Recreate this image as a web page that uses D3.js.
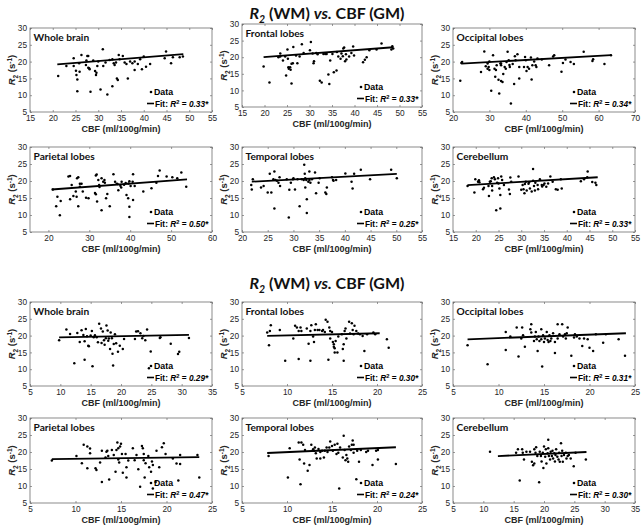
<!DOCTYPE html>
<html><head><meta charset="utf-8">
<script src="https://cdn.jsdelivr.net/npm/d3@7"></script>
<style>body{margin:0;background:#fff}svg{display:block}</style>
</head><body><svg id="c" width="641" height="526"></svg>
<script>
const regions = ["Whole brain","Frontal lobes","Occipital lobes","Parietal lobes","Temporal lobes","Cerebellum"];
const topR2 = ["0.33","0.33","0.34","0.50","0.25","0.33"];
const botR2 = ["0.29","0.30","0.31","0.47","0.24","0.30"];
const topXDomains = [[15,55],[15,55],[20,70],[15.5,60],[20,55],[15,55]];
const topXTicks = [[15,20,25,30,35,40,45,50,55],[15,20,25,30,35,40,45,50,55],[20,30,40,50,60,70],[20,30,40,50,60],[20,25,30,35,40,45,50,55],[15,20,25,30,35,40,45,50,55]];
const botXDomains = [[5,35],[5,25],[5,25],[5,25],[5,25],[5,35]];
const botXTicks = [[5,10,15,20,25,30,35],[5,10,15,20,25],[5,10,15,20,25],[5,10,15,20,25],[5,10,15,20,25],[5,10,15,20,25,30,35]];
const yTicks = [5,10,15,20,25,30];
// fits: [x start, R2 start, x end, R2 end]
const topFits = [[21,19.2,48.7,22.2],[19.8,20.0,48.6,23.0],[22.3,19.4,63.4,21.9],[20.8,17.5,53.9,20.5],[21.9,19.8,50.1,22.1],[18.2,18.8,46.8,21.1]];
const botFits = [[9.8,19.5,31.2,20.2],[7.8,19.9,20.3,20.7],[6.6,18.9,24,20.7],[7.4,17.9,23.6,18.5],[7.8,19.7,22.1,21.4],[12.4,18.8,27,20]];

// Top half: R2 (WM) vs CBF (GM), [CBF, R2]
const wbTop = [[21.2,15.7],[23,18.7],[24.6,21],[24.6,18.7],[25.1,17.3],[25.2,16],[25.4,14.7],[25.4,11.2],[25.8,19.5],[25.9,17],[26.3,22],[27.3,19],[27.4,20.3],[27.6,21.7],[27.8,21.7],[27.8,18.2],[28,18],[28.1,17.7],[28.3,11],[28.9,20.3],[29.3,17.2],[29.5,16],[29.6,16.7],[29.8,18.7],[30,20],[30.5,11.7],[31,23.7],[31.1,18.7],[31.6,19.7],[32,10.2],[32.5,20.5],[33.1,20.7],[33.1,12.7],[33.4,19.5],[33.6,19],[33.9,19.7],[34.1,15],[34.3,14.5],[34.5,22],[34.7,20.7],[35.4,21.7],[35.8,19.7],[36.2,19.3],[36.5,15],[37,20],[37.5,19.5],[38,20],[38,17.5],[38.7,19.3],[39.2,20.7],[39.6,17.7],[40,21.5],[40.5,18.5],[41.4,19.3],[44.6,21],[44.9,23],[46,19.5],[46.4,21.3],[47.9,21.3],[48.6,21.5]];
const flTop = [[19.8,17.2],[21.1,12.4],[23.1,20],[23.5,21.1],[23.5,20.2],[24.1,19],[24.6,20.2],[24.8,14.5],[25.1,22.3],[25.2,19.5],[25.3,17],[25.4,16.5],[25.7,17],[25.8,16.2],[26,18],[26,12.1],[26.3,18.2],[26.4,23.1],[27,20.5],[27.3,18.2],[27.8,20.2],[28.3,23.9],[28.7,21.3],[30.1,22.1],[30.3,24.6],[30.7,21.1],[30.9,18.2],[31,18.8],[31.5,21.3],[31.8,20.9],[32.3,12.9],[32.7,12.4],[33.1,21],[33.5,21],[33.8,21],[34.2,14.8],[34.4,11.9],[34.6,19],[35.1,21],[35.4,15.5],[36,16],[36.1,21.6],[36.4,20.2],[36.9,19.5],[37.1,21.1],[37.4,20.3],[37.5,22.6],[37.7,22.9],[37.9,18.8],[38.1,20.9],[38.2,19.3],[38.8,20.2],[39.3,21.3],[39.7,23.2],[39.9,20.5],[41.9,18.5],[42.3,19.2],[42.7,20],[43.3,22.1],[44.9,22.3],[46,24.1],[48.2,22.3],[48.4,23.3],[48.6,22.6]];
const olTop = [[22,14.3],[22.3,19.6],[22.5,19.9],[27.7,16.9],[28.6,23],[29,18.6],[29.5,17.9],[29.5,19.4],[29.8,18.4],[30,20],[30,17.5],[30.5,11.3],[31,21.9],[31.4,17.9],[31.8,17.5],[31.6,15.5],[32,18.9],[32.5,14.6],[32.7,10.5],[33,19.4],[33.2,18.9],[33.2,19.4],[33.2,14.2],[33.6,13.9],[33.8,16.3],[34.2,18.4],[34.5,17.9],[34.7,19.9],[35,22.9],[35.3,20.4],[35.5,19],[35.6,18.4],[35.9,7.5],[36.4,19.3],[36.8,13.3],[37,21.6],[37.2,20.4],[37.7,22.2],[38.2,18.4],[38.2,15],[39.5,18.4],[39.8,21.4],[40,20.4],[40.2,17.2],[40.5,18.4],[40.9,17.9],[41.4,21.2],[41.6,14.7],[41.8,18.9],[42.3,20],[42.7,18.9],[42.9,18.4],[43.2,20.9],[44.4,20.6],[46.4,18.9],[47.5,21.5],[47.8,21.9],[49.8,17],[50.2,19.6],[50.9,20.6],[52.3,19.9],[53.2,19.3],[55.9,22.9],[58.3,20.2],[58.5,20.7],[61.6,19.3],[63.4,21.9]];
const plTop = [[21.1,17.5],[21.9,12.6],[22.2,15.4],[22.8,9.9],[23,14.1],[24.9,21.3],[25.3,21.5],[25.3,14.6],[25.7,18.8],[26.1,15.6],[26.7,16.9],[27,20.8],[27.3,21.1],[26.9,15.4],[27.3,12.6],[27.7,18.3],[27.7,19.2],[28.1,19.2],[28.4,16.9],[29.2,15.1],[29.8,14.9],[31.4,16.5],[31.6,16.1],[31.6,21.6],[31.8,21.9],[31.9,14],[32.2,20.3],[32.4,18.8],[32.5,18.2],[33,20.8],[33,11.4],[33.4,19.8],[33.7,20.3],[33.8,19.5],[34.1,14.9],[34.4,16.2],[35,12.6],[35.9,22],[36.3,19.8],[36.7,19.2],[36.9,19.1],[37.1,17.3],[37.6,18.6],[37.8,18.1],[37.9,19.8],[38.5,18.9],[38.9,19.4],[39.1,15.9],[39.6,19.3],[39.8,19.9],[39.5,14.9],[39.8,12.4],[39.8,9.4],[40.1,18.5],[40.6,19.8],[40.7,22],[40.7,14.4],[41.1,18.5],[43.2,16.9],[45.2,17.9],[46.4,19.5],[46.8,21.5],[47.2,23.1],[48.9,21.3],[50.3,21.1],[51.5,20.8],[52.5,22.5],[53.7,18.3]];
const tlTop = [[21.8,18.8],[21.9,17.5],[22.1,20.5],[23.7,18.1],[24.2,18.5],[25,16.6],[25.4,22.1],[25.7,16.6],[26.1,20.5],[26.3,22.8],[26.3,11.9],[26.5,20.3],[26.8,20.1],[27.1,19.5],[27.3,21.1],[27.4,18.5],[28.7,20.5],[29.1,9.3],[29.2,17.4],[29.5,19.5],[29.9,20.5],[30,20.8],[30.3,17.5],[30.8,20.5],[31.2,12.6],[31.6,20.5],[32,20.3],[32.1,24.8],[32.2,22.1],[32.3,20.8],[32.3,18.1],[32.5,20.3],[32.6,14.6],[32.6,10.6],[32.9,19.8],[33.1,20.3],[33.1,22.8],[33.3,19.5],[33.6,20.5],[34.2,22.5],[34.4,16.4],[34.9,19.5],[35.1,20.8],[36.2,16.6],[36.4,16.2],[36.5,18.1],[37.5,21.1],[37.7,20.3],[37.8,20.1],[38.3,20.3],[40.1,22.2],[41.3,19.8],[41.5,17.8],[41.8,22.1],[43.1,23.3],[44.9,20.5],[49,23.3],[50.1,20.8]];
const ceTop = [[18.2,18.5],[19.7,16.6],[19.9,20.5],[20.5,19.8],[20.7,20.2],[20.8,19.6],[21.6,17.6],[21.8,18],[22.8,18.5],[22.9,15.6],[23.1,19.8],[23.3,19.9],[23.5,20.8],[23.6,18.5],[23.6,17.2],[24,21.1],[24.2,20.5],[24.5,11.4],[24.7,19.5],[24.9,20.8],[25,19.3],[25.2,17.8],[25.4,15.9],[25.4,11.9],[25.6,21.3],[25.8,20.3],[26.2,18.8],[27.3,17.5],[27.5,16.2],[27.6,21],[27.8,19.8],[29.4,21.3],[30,17.4],[30.3,18.8],[30.5,17.6],[30.7,16.4],[30.8,19.1],[31,19.8],[31.2,17.2],[31.6,19.2],[31.7,19.6],[31.9,17.8],[32.3,16.9],[32.6,23.5],[32.6,20.1],[32.8,18.5],[33,17.2],[33.1,19.5],[33.6,18.8],[33.7,17.6],[34.1,20.5],[34.5,18.8],[34.6,18.4],[34.9,18.8],[35.1,19.3],[35.5,18.3],[35.9,19.3],[36.4,21.3],[36.9,19.8],[37.6,17.6],[38,17.4],[38.7,20.5],[38.9,17.8],[43.1,19.9],[43.8,20.5],[44.5,21.1],[44.6,22.8],[45.6,19.7],[46.3,19.5],[46.5,18.8]];

// Bottom half
const wbBot = [[9.8,18.6],[11,21.8],[11.6,20.5],[12.3,11.8],[12.8,20.8],[13.2,18.1],[13.5,21.6],[13.8,20.2],[14,12.8],[14,18.3],[14.2,22],[14.4,19.8],[14.6,17],[14.7,16.8],[15,20],[15.2,21.4],[15.3,10.9],[15.5,19.5],[15.7,20.1],[16,19.5],[16.2,18],[16.4,23.5],[16.7,22.1],[16.8,17.8],[17,21.2],[17.2,18.6],[17.3,17.3],[17.5,19.2],[17.6,23],[17.8,21.5],[17.9,18.5],[18,19.1],[18.2,16],[18.3,20.9],[18.5,19.2],[18.6,14.6],[18.7,11.1],[18.8,17.5],[19,20.4],[19.2,17.7],[19.5,15.2],[19.8,17],[20.3,16],[20.5,19],[22.3,19],[22.5,21.2],[22.8,21.3],[23.2,20.7],[23.5,19.2],[23.7,19.9],[24,18.6],[24.3,21.8],[24.6,10.3],[24.9,15.3],[26.4,19.3],[26.5,19.5],[28.2,17.6],[29.4,14.5],[29.6,15.2],[31.2,19.3]];
const flBot = [[7.8,20.9],[8,17.1],[8.1,21.4],[8.2,23.1],[9.2,21.7],[9.8,12.5],[10.7,19.1],[10.9,22.9],[11.1,22.4],[11.3,21.4],[11.5,22.4],[11.6,21.4],[11.3,13],[12.2,22.1],[12.4,17.6],[12.6,12.5],[12.6,21.4],[12.7,23.1],[12.9,19.7],[13,18.1],[13.1,21.7],[13.2,23.4],[13.4,21.7],[13.6,21.7],[13.9,21.4],[14,21.7],[14.2,21.1],[14.3,24.7],[14.5,24.1],[14.6,12.8],[14.7,22.4],[14.8,21.4],[14.8,19.1],[15,21.1],[15.1,18.1],[15.2,16.7],[15.2,17.4],[15.3,16.2],[15.3,15],[15.4,18.4],[15.6,15],[15.7,19.7],[16.1,20.4],[16.2,16],[16.3,17.4],[16.3,12.5],[16.4,21.4],[16.5,22.1],[16.6,19.1],[16.9,24.1],[17,20.6],[17.2,23.7],[17.3,21.7],[17.4,20.4],[17.5,22.9],[17.7,21.4],[17.9,20.6],[18.1,20.4],[18.4,19.9],[18.6,15.4],[18.9,20.4],[19.6,20.9],[19.8,20.4],[21.1,18.9],[21.3,16.4]];
const olBot = [[6.6,17.1],[8.8,11.5],[10.8,21.1],[10.8,15.7],[11.3,19.7],[12,22.4],[12.2,13.8],[12.5,19.1],[12.6,22.4],[12.7,20.1],[12.9,16.7],[13.5,21.9],[13.6,23.4],[13.6,20.9],[13.9,18.4],[14,19.7],[14.1,21.1],[14.2,18.9],[14.3,15.4],[14.4,19.7],[14.5,18.4],[14.7,18.9],[14.7,21.9],[14.8,10.8],[14.9,20.1],[15,18.1],[15.1,19.1],[15.3,21.1],[15.4,18.7],[15.5,18.1],[15.6,20.1],[15.7,18.4],[15.8,19.1],[16,20.7],[16.2,18.1],[16.2,14.8],[16.5,23.4],[16.5,19.1],[16.7,20.4],[17,23.4],[17.1,19.7],[17.3,20.4],[17.4,19.1],[17.5,20.7],[17.6,22.4],[18,14],[18.3,19.4],[18.4,20.4],[18.6,19.7],[18.9,19.1],[19.2,16.9],[19.4,19.1],[19.8,18.9],[20,16.4],[20.4,15.4],[20.7,20.4],[21.5,17.9],[21.8,20.4],[23.2,18.9],[23.9,14]];
const plBot = [[7.4,17.5],[10.1,18.8],[10.7,16.7],[10.9,22.1],[11.3,21.6],[11.3,15.2],[11.6,21],[11.6,19.6],[12.2,15.2],[12.3,14.7],[12.7,16.9],[12.9,20.4],[12.9,11.2],[13.3,18.4],[13.4,20.1],[13.5,20.4],[13.6,18.8],[13.7,11.9],[14,20.6],[14.2,19.1],[14.4,14.2],[14.5,20.6],[14.6,22.8],[14.7,21.1],[14.7,17.8],[14.8,16.9],[14.9,21.6],[15,22.4],[15.1,19.4],[15.2,13.9],[15.5,19.4],[15.6,15.5],[15.6,12.5],[15.8,17.5],[16.3,21.1],[16.5,17.6],[16.7,19.1],[16.9,14.9],[17.1,9.8],[17.3,21.8],[17.4,21.1],[17.5,17.6],[17.5,19.4],[17.6,12.5],[17.7,16.7],[18,18.8],[18.1,15.5],[18.3,14.2],[18.4,17.2],[18.5,16.2],[18.5,9.3],[18.8,11.2],[18.9,20.4],[19.2,15.5],[19.5,21.4],[19.7,22.6],[19.9,19.4],[20.7,18.1],[21.1,16.6],[21.3,11.6],[21.5,19.1],[21.5,16.5],[23.4,19.1],[23.6,12.5]];
const tlBot = [[7.95,18.8],[10.1,12.5],[10.3,21.1],[11.3,22.8],[11.4,17.8],[11.5,10.5],[11.6,22.8],[11.8,22.1],[11.9,16.6],[12,20.6],[12.3,14.5],[12.5,16.2],[12.7,22.1],[12.9,20.8],[13,20.4],[13.1,21.3],[13.2,19.6],[13.3,18.1],[13.5,20.9],[13.7,20],[13.7,18.1],[13.9,20.4],[14.1,18.4],[14.2,20.4],[14.4,21.3],[14.5,20],[14.7,21.3],[14.8,23.1],[15,21.8],[15.1,20.4],[15.3,22.1],[15.5,19.4],[15.6,22.4],[15.7,19.8],[15.8,9.3],[15.9,21.3],[16.2,18.4],[16.3,24.8],[16.4,20.6],[16.5,17.6],[16.6,19.1],[16.7,18.1],[16.8,17.1],[16.9,21.6],[17.1,20.6],[17.2,22.1],[17.3,23.4],[17.4,19.8],[17.4,22.1],[17.7,12],[17.8,20.4],[18,17.1],[18.2,20.6],[18.8,20],[19,20.4],[19.5,16.2],[19.9,20.4],[20.1,20.6],[20.1,17.8],[22.1,16.5]];
const ceBot = [[11.1,20.1],[15.4,19.8],[15.7,20.8],[16,11.6],[16.4,20.8],[16.5,19.8],[16.7,17.8],[17.1,20.1],[17.7,20.1],[18,17.1],[18.2,16.1],[18.4,16.6],[18.4,20.8],[18.6,19.8],[18.7,21.4],[18.9,18.8],[19.2,11.1],[19.3,20.1],[19.5,18.8],[19.6,17.2],[19.8,19.8],[19.9,15.3],[20,21.6],[20.2,18.6],[20.3,20.8],[20.4,16.6],[20.6,19.6],[20.7,23.6],[20.7,21.1],[20.8,18.8],[21,17.8],[21.1,20.1],[21.3,18.8],[21.4,20.4],[21.5,18.1],[21.7,19.6],[21.8,17.2],[21.9,19.1],[22,20.8],[22.2,18.6],[22.4,17.8],[22.5,19.8],[22.6,17.1],[22.8,22.6],[22.9,18.8],[23,20.4],[23.1,17.1],[23.3,19.1],[23.6,19.8],[23.7,18.1],[23.9,18.8],[24.1,19.1],[24.4,18.1],[24.9,15.8],[25.2,19.8],[26.9,17.8]];

const topData = [wbTop, flTop, olTop, plTop, tlTop, ceTop];
const botData = [wbBot, flBot, olBot, plBot, tlBot, ceBot];

// ---------- layout ----------
const cols = [[30,212],[242,422],[453,635]];
const rowsY = [[28,112],[147,232],[302,386],[418,503]];
const svg = d3.select("#c");
const TICKF = "'Liberation Sans', Arial, sans-serif";
const TITLEF = "Lato, 'Open Sans', sans-serif";
const INK = "#262626";

function drawTitle(cx, by){
  const t = svg.append("text").attr("x",cx).attr("y",by).attr("text-anchor","middle")
    .attr("font-family",TITLEF).attr("font-weight","bold").attr("font-size",16).attr("fill","#111");
  t.append("tspan").attr("font-style","italic").text("R");
  t.append("tspan").attr("font-style","italic").attr("font-size",10.5).attr("dy",4).text("2");
  t.append("tspan").attr("dy",-4).text(" (WM) ");
  t.append("tspan").attr("font-style","italic").text("vs.");
  t.append("tspan").text(" CBF (GM)");
}
drawTitle(327, 19);
drawTitle(327, 289);

function panel(i, half){
  const row = Math.floor(i/3) + (half ? 2 : 0);
  const col = i % 3;
  const [x0,x1] = cols[col];
  let [y0,y1] = rowsY[row];
  if (!half && i===1){ y0 -= 4; y1 -= 5; }
  const pts = (half ? botData : topData)[i];
  const fit = (half ? botFits : topFits)[i];
  const r2 = (half ? botR2 : topR2)[i];
  const xd = (half ? botXDomains : topXDomains)[i];
  const xt = (half ? botXTicks : topXTicks)[i];
  const x = d3.scaleLinear().domain(xd).range([x0,x1]);
  const y = d3.scaleLinear().domain([5,30]).range([y1,y0]);
  const g = svg.append("g");

  const styleAxis = sel => {
    sel.select(".domain").remove();
    sel.selectAll("line").attr("stroke","#555").attr("stroke-width",0.6);
    sel.selectAll("text").attr("font-family",TICKF).attr("font-size",8.3).attr("fill",INK);
  };
  g.append("g").attr("transform",`translate(0,${y1})`)
    .call(d3.axisBottom(x).tickValues(xt).tickSize(-2).tickPadding(3).tickFormat(d3.format("d"))).call(styleAxis);
  g.append("g").attr("transform",`translate(0,${y0})`)
    .call(d3.axisTop(x).tickValues(xt).tickSize(-2).tickFormat("")).call(styleAxis);
  g.append("g").attr("transform",`translate(${x0},0)`)
    .call(d3.axisLeft(y).tickValues(yTicks).tickSize(-2).tickPadding(3)).call(styleAxis);
  g.append("g").attr("transform",`translate(${x1},0)`)
    .call(d3.axisRight(y).tickValues(yTicks).tickSize(-2).tickFormat("")).call(styleAxis);
  g.append("rect").attr("x",x0).attr("y",y0).attr("width",x1-x0).attr("height",y1-y0)
    .attr("fill","none").attr("stroke","#6e6e6e").attr("stroke-width",0.8);

  g.append("g").selectAll("circle").data(pts).join("circle")
    .attr("cx",d=>x(d[0])).attr("cy",d=>y(d[1])).attr("r",1.25).attr("fill","#000");
  g.append("line").attr("x1",x(fit[0])).attr("y1",y(fit[1])).attr("x2",x(fit[2])).attr("y2",y(fit[3]))
    .attr("stroke","#000").attr("stroke-width",1.8);

  g.append("text").attr("x",x0+3.5).attr("y",y0+12.5).attr("font-family",TITLEF).attr("font-weight","bold")
    .attr("font-size",10.2).attr("fill","#111").text(regions[i]);

  // legend
  const L = x1 - 4;
  g.append("circle").attr("cx",L-57).attr("cy",y1-20).attr("r",1.3).attr("fill","#000");
  g.append("text").attr("x",L-54).attr("y",y1-16.8).attr("font-family",TICKF).attr("font-weight","bold")
    .attr("font-size",8.8).attr("fill","#000").text("Data");
  g.append("line").attr("x1",L-61).attr("x2",L-54).attr("y1",y1-8.5).attr("y2",y1-8.5)
    .attr("stroke","#000").attr("stroke-width",1.6);
  const lt = g.append("text").attr("x",L-53).attr("y",y1-5.5).attr("font-family",TICKF).attr("font-weight","bold")
    .attr("font-size",8.3).attr("fill","#000");
  lt.append("tspan").text("Fit: ");
  lt.append("tspan").attr("font-style","italic").text("R");
  lt.append("tspan").attr("font-size",5.8).attr("dy",-3).text("2");
  lt.append("tspan").attr("dy",3).text(" = ");
  lt.append("tspan").attr("font-style","italic").text(r2 + "*");

  const yl = g.append("text").attr("transform",`translate(${x0-15},${(y0+y1)/2}) rotate(-90)`)
    .attr("text-anchor","middle").attr("font-family",TICKF).attr("font-weight","bold")
    .attr("font-size",9.5).attr("fill",INK);
  yl.append("tspan").attr("font-style","italic").text("R");
  yl.append("tspan").attr("font-size",6.5).attr("dy",2.5).text("2");
  yl.append("tspan").attr("dy",-2.5).text(" (s");
  yl.append("tspan").attr("font-size",6.5).attr("dy",-3.5).text("-1");
  yl.append("tspan").attr("dy",3.5).text(")");

  g.append("text").attr("x",(x0+x1)/2).attr("y",y1+20).attr("text-anchor","middle")
    .attr("font-family",TICKF).attr("font-weight","bold").attr("font-size",9).attr("fill",INK)
    .text("CBF (ml/100g/min)");
}
for (let i=0;i<6;i++){ panel(i,false); panel(i,true); }
</script></body></html>
